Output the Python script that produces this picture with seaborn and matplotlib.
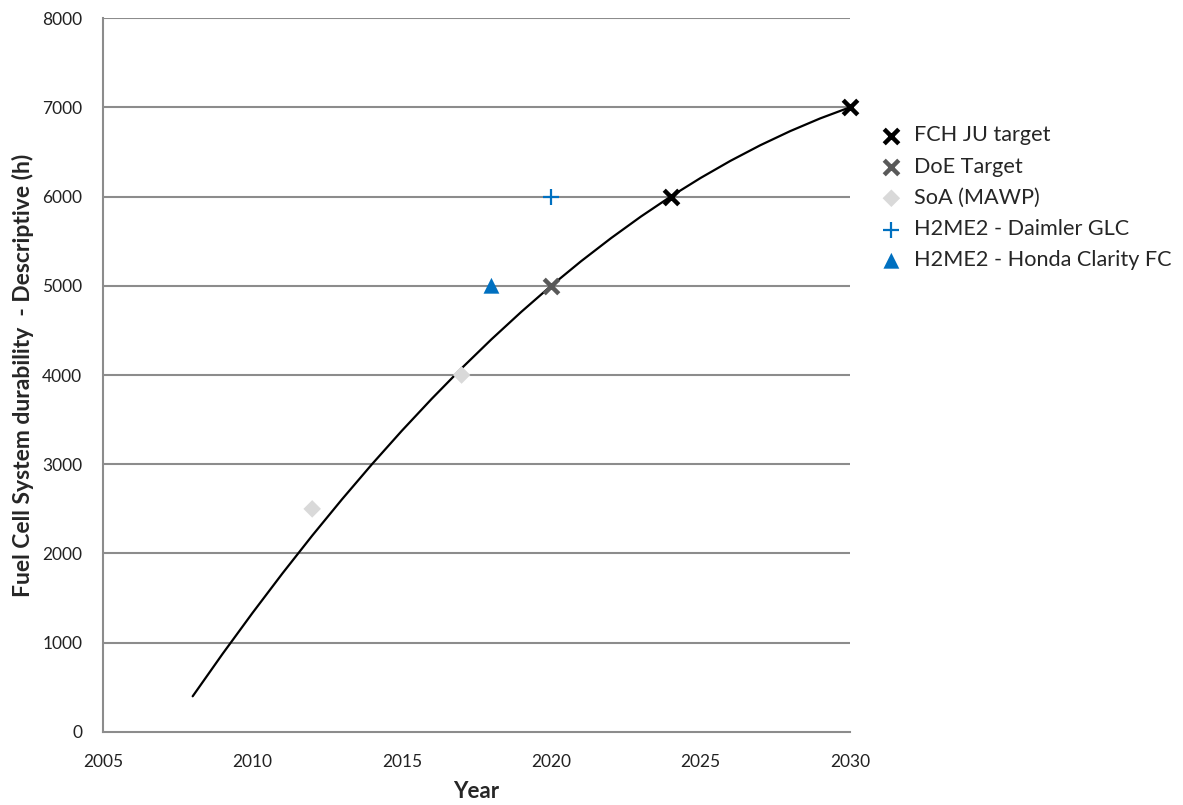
import pandas as pd
import matplotlib.pyplot as plt
import seaborn as sns

# --- Data ---
trend_years = [2008, 2009, 2010, 2011, 2012, 2013, 2014, 2015, 2016, 2017, 2018, 2019,
               2020, 2021, 2022, 2023, 2024, 2025, 2026, 2027, 2028, 2029, 2030]
trend_hours = [400, 875, 1333, 1775, 2200, 2608, 3000, 3375, 3733, 4075, 4400, 4708,
               5000, 5275, 5533, 5775, 6000, 6208, 6400, 6575, 6733, 6875, 7000]

fch_years = [2024, 2030]
fch_hours = [6000, 7000]
doe_years = [2020]
doe_hours = [5000]
soa_years = [2012, 2017]
soa_hours = [2500, 4000]
daimler_years = [2020]
daimler_hours = [6000]
honda_years = [2018]
honda_hours = [5000]

x_ticks = [2005, 2010, 2015, 2020, 2025, 2030]
y_ticks = [0, 1000, 2000, 3000, 4000, 5000, 6000, 7000, 8000]

sns.set_theme(style="white")
plt.rcParams['font.family'] = ['Lato', 'DejaVu Sans']

fig = plt.figure(figsize=(11.83, 8.05), dpi=100)
ax = fig.add_axes([0.0871, 0.0907, 0.6314, 0.8869])

grid_color = '#8c8c8c'
for y in y_ticks[1:]:
    ax.axhline(y, color=grid_color, lw=1.5, zorder=0)

# trend line
trend = pd.DataFrame({'year': trend_years, 'hours': trend_hours})
sns.lineplot(data=trend, x='year', y='hours', ax=ax, color='black', lw=1.6, zorder=2)

blue = '#0070c0'
sns.scatterplot(x=fch_years, y=fch_hours, ax=ax, marker='x', s=110, color='black',
                linewidth=3.2, label='FCH JU target', zorder=4)
sns.scatterplot(x=doe_years, y=doe_hours, ax=ax, marker='x', s=110, color='#595959',
                linewidth=3.2, label='DoE Target', zorder=4)
sns.scatterplot(x=soa_years, y=soa_hours, ax=ax, marker='D', s=80, color='#d9d9d9',
                edgecolor='none', label='SoA (MAWP)', zorder=3)
sns.scatterplot(x=daimler_years, y=daimler_hours, ax=ax, marker='+', s=130, color=blue,
                linewidth=1.6, label='H2ME2 - Daimler GLC', zorder=4)
sns.scatterplot(x=honda_years, y=honda_hours, ax=ax, marker='^', s=130, color=blue,
                edgecolor='none', label='H2ME2 - Honda Clarity FC', zorder=4)
for coll in ax.collections:
    coll.set_clip_on(False)

ax.set_xlim(2005, 2030)
ax.set_ylim(0, 8000)
ax.set_xticks(x_ticks)
ax.set_yticks(y_ticks)

for side in ['top', 'right']:
    ax.spines[side].set_visible(False)
for side in ['left', 'bottom']:
    ax.spines[side].set_color(grid_color)
    ax.spines[side].set_linewidth(1.5)

ax.tick_params(axis='both', direction='out', length=7, width=1.5, color=grid_color,
               labelsize=12.5, labelcolor='#222222', pad=9)
ax.tick_params(axis='y', pad=8)

ax.set_xlabel('Year', fontsize=16, fontweight='bold', labelpad=8)
ax.set_ylabel('Fuel Cell System durability  - Descriptive (h)', fontsize=16.5,
              fontweight='bold', labelpad=6)

ax.legend(loc='upper left', bbox_to_anchor=(0.737, 0.855), bbox_transform=fig.transFigure,
          frameon=False, fontsize=15.6, handletextpad=0.55, labelspacing=0.52,
          handlelength=1.0, borderaxespad=0)

plt.savefig('out.png', dpi=100)
plt.close()
